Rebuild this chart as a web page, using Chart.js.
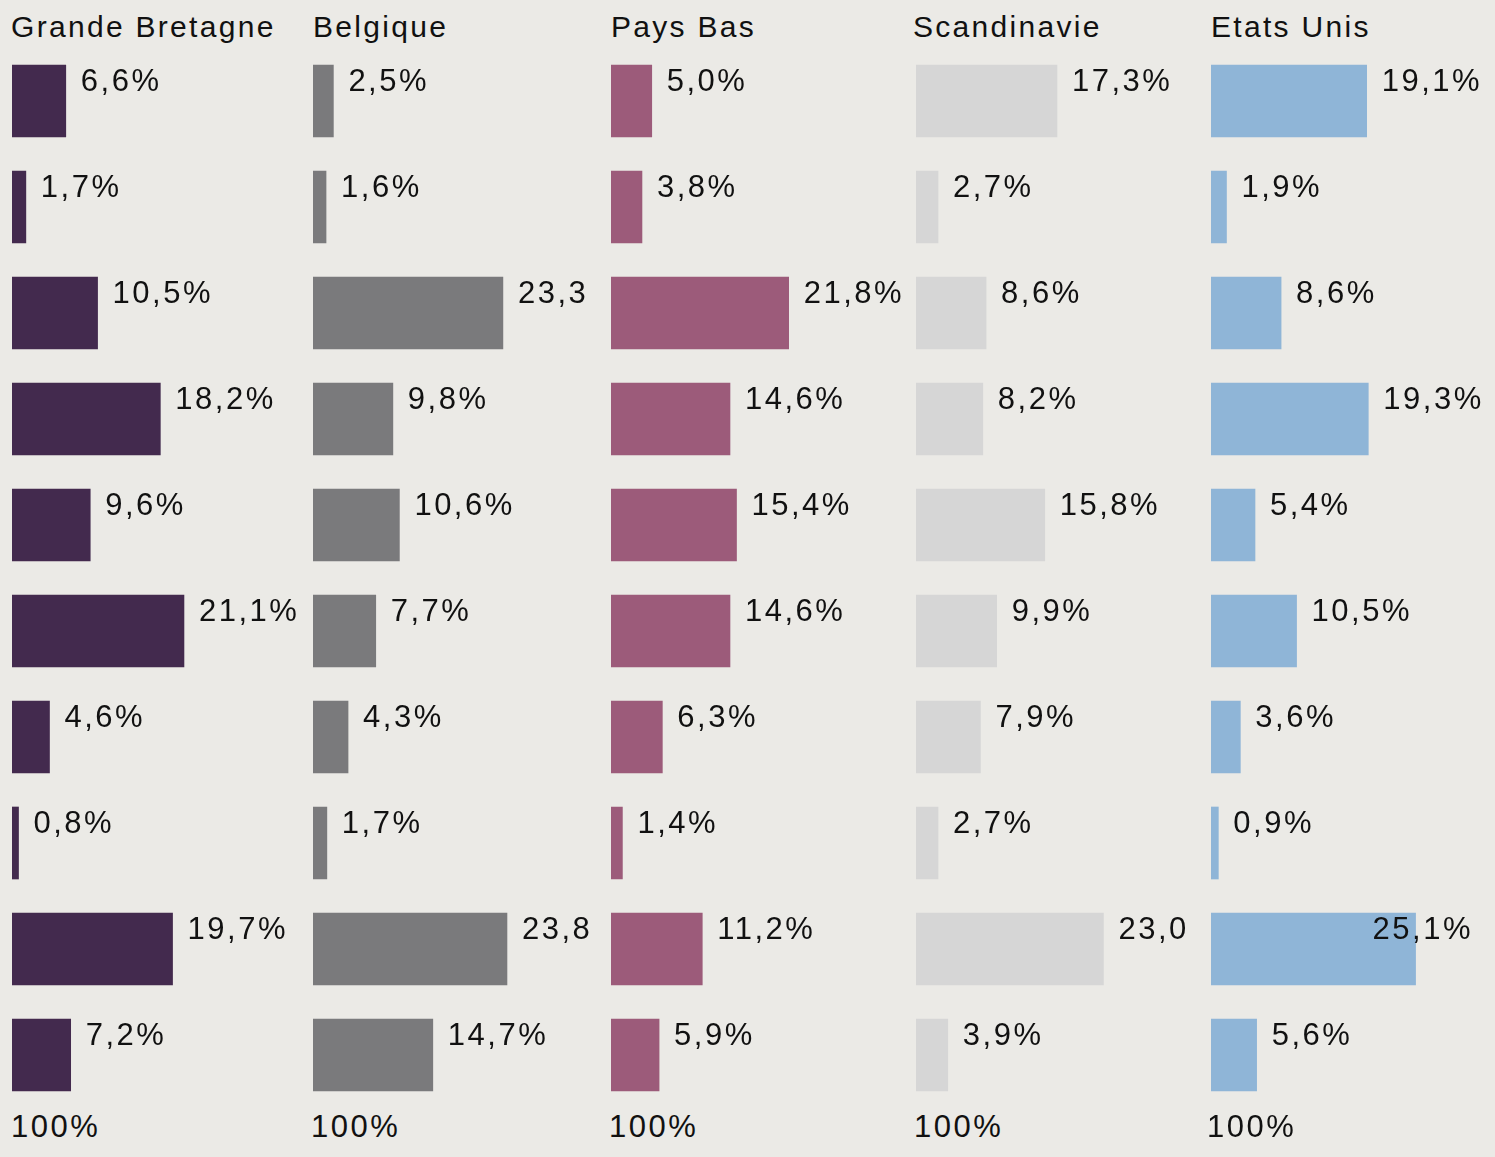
<!DOCTYPE html>
<html>
<head>
<meta charset="utf-8">
<script src="https://cdn.jsdelivr.net/npm/chart.js@4/dist/chart.umd.min.js"></script>
<style>
  html, body { margin:0; padding:0; background:#ebeae6; }
  body { width:1495px; height:1157px; position:relative; overflow:hidden;
         font-family:"Liberation Sans", Arial, sans-serif; color:#111; }
  .ttl { position:absolute; font-size:30px; line-height:30px; letter-spacing:2.3px; white-space:nowrap; }
  .foot { position:absolute; font-size:31px; line-height:31px; letter-spacing:2.5px; white-space:nowrap; }
  canvas { position:absolute; top:0; }
</style>
</head>
<body>
<script>
// ---- data ----
const categories = ['1','2','3','4','5','6','7','8','9','10'];
const panelTitles = ['Grande Bretagne','Belgique','Pays Bas','Scandinavie','Etats Unis'];
const footerLabel = '100%';

const grandeBretagne = [6.6, 1.7, 10.5, 18.2, 9.6, 21.1, 4.6, 0.8, 19.7, 7.2];
const belgique       = [2.5, 1.6, 23.3, 9.8, 10.6, 7.7, 4.3, 1.7, 23.8, 14.7];
const paysBas        = [5.0, 3.8, 21.8, 14.6, 15.4, 14.6, 6.3, 1.4, 11.2, 5.9];
const scandinavie    = [17.3, 2.7, 8.6, 8.2, 15.8, 9.9, 7.9, 2.7, 23.0, 3.9];
const etatsUnis      = [19.1, 1.9, 8.6, 19.3, 5.4, 10.5, 3.6, 0.9, 25.1, 5.6];

const grandeBretagneLabels = ['6,6%','1,7%','10,5%','18,2%','9,6%','21,1%','4,6%','0,8%','19,7%','7,2%'];
const belgiqueLabels       = ['2,5%','1,6%','23,3','9,8%','10,6%','7,7%','4,3%','1,7%','23,8','14,7%'];
const paysBasLabels        = ['5,0%','3,8%','21,8%','14,6%','15,4%','14,6%','6,3%','1,4%','11,2%','5,9%'];
const scandinavieLabels    = ['17,3%','2,7%','8,6%','8,2%','15,8%','9,9%','7,9%','2,7%','23,0','3,9%'];
const etatsUnisLabels      = ['19,1%','1,9%','8,6%','19,3%','5,4%','10,5%','3,6%','0,9%','25,1%','5,6%'];

// ---- layout / style ----
const series = [grandeBretagne, belgique, paysBas, scandinavie, etatsUnis];
const seriesLabels = [grandeBretagneLabels, belgiqueLabels, paysBasLabels, scandinavieLabels, etatsUnisLabels];
const colors = ['#432a4e', '#7a7a7c', '#9c5b7a', '#d6d6d6', '#8fb5d7'];
const panelLeft = [12, 313, 611, 916, 1211];
const panelWidth = [296, 296, 300, 293, 284];
const titleLeft = [11, 313, 611, 913, 1211];
const footLeft = [11, 311, 609, 914, 1207];
const pxPerPct = 8.15;

const labelPlugin = {
  id: 'valueLabels',
  afterDatasetsDraw(chart) {
    const ctx = chart.ctx;
    const labels = chart.options.plugins.valueLabels.labels;
    const meta = chart.getDatasetMeta(0);
    ctx.save();
    ctx.font = '31px "Liberation Sans", Arial, sans-serif';
    ctx.letterSpacing = '2.5px';
    ctx.fillStyle = '#111';
    ctx.textBaseline = 'alphabetic';
    ctx.textAlign = 'left';
    meta.data.forEach((bar, i) => {
      const txt = labels[i];
      const w = ctx.measureText(txt).width;
      let x = bar.x + 15;
      if (x + w > chart.width - 4) x = chart.width - 22 - w;
      const top = bar.y - bar.height / 2;
      ctx.fillText(txt, x, top + 26);
    });
    ctx.restore();
  }
};

series.forEach((vals, p) => {
  const t = document.createElement('div');
  t.className = 'ttl';
  t.style.left = titleLeft[p] + 'px';
  t.style.top = '12px';
  t.textContent = panelTitles[p];
  document.body.appendChild(t);

  const f = document.createElement('div');
  f.className = 'foot';
  f.style.left = footLeft[p] + 'px';
  f.style.top = '1111px';
  f.textContent = footerLabel;
  document.body.appendChild(f);

  const c = document.createElement('canvas');
  c.width = panelWidth[p];
  c.height = 1157;
  c.style.left = panelLeft[p] + 'px';
  c.style.width = panelWidth[p] + 'px';
  c.style.height = '1157px';
  document.body.appendChild(c);

  new Chart(c.getContext('2d'), {
    type: 'bar',
    data: {
      labels: categories,
      datasets: [{ data: vals, backgroundColor: colors[p], borderWidth: 0, barThickness: 72 }]
    },
    options: {
      indexAxis: 'y',
      responsive: false,
      animation: false,
      devicePixelRatio: 1,
      layout: { padding: { top: 48, bottom: 49, left: 0, right: 0 } },
      scales: {
        x: { display: false, min: 0, max: panelWidth[p] / pxPerPct },
        y: { display: false }
      },
      plugins: {
        legend: { display: false },
        tooltip: { enabled: false },
        valueLabels: { labels: seriesLabels[p] }
      }
    },
    plugins: [labelPlugin]
  });
});
</script>
</body>
</html>
